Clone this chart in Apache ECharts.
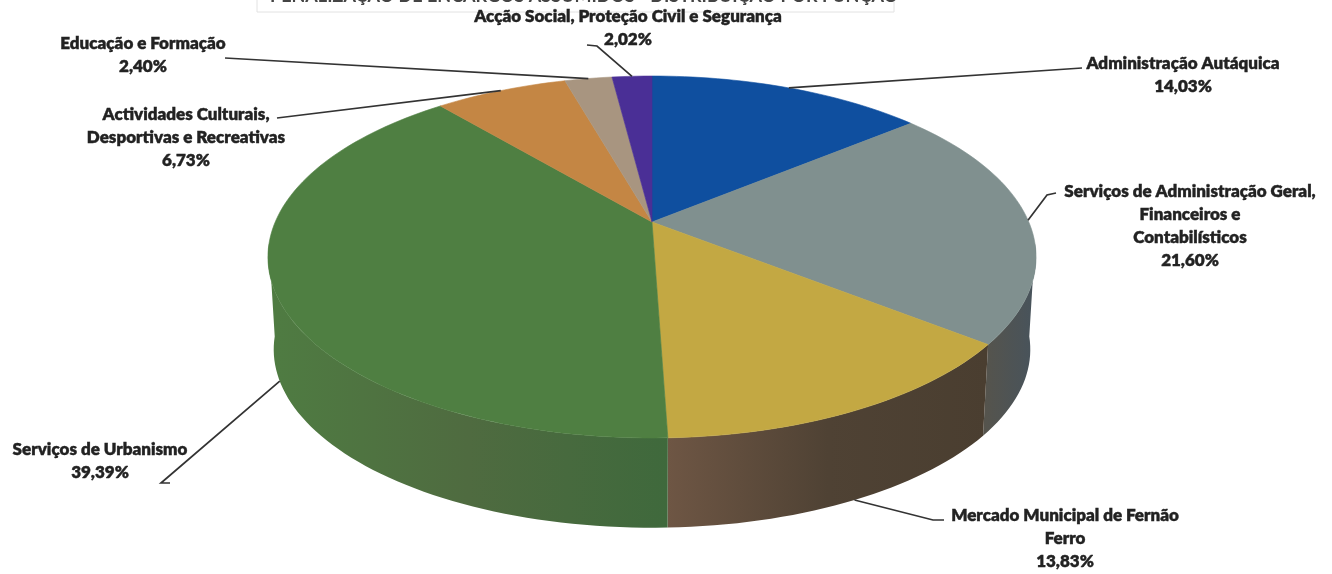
<!DOCTYPE html>
<html><head><meta charset="utf-8">
<style>html,body{margin:0;padding:0;background:#fff}#c{width:1332px;height:574px}</style>
<script src="https://cdn.jsdelivr.net/npm/echarts@6/dist/echarts.min.js"></script>
</head><body><div id="c"></div>
<script>
var names = ['Administração Autáquica','Serviços de Administração Geral,\nFinanceiros e\nContabilísticos','Mercado Municipal de Fernão\nFerro','Serviços de Urbanismo','Actividades Culturais,\nDesportivas e Recreativas','Educação e Formação','Acção Social, Proteção Civil e Segurança'];
var values = [14.03,21.60,13.83,39.39,6.73,2.40,2.02];
var titleText = 'PENALIZAÇÃO DE ENCARGOS ASSUMIDOS - DISTRIBUIÇÃO POR FUNÇÃO';

var topColors = ['#0f4f9f','#80908f','#c3a843','#4f7f42','#c48644','#a89580','#4a2f96'];
var wallColors = [['#0f3c70','#0f3c70'],['#56544c','#47535c'],['#6e5644','#4f4234','#4a3e30'],['#4f7c42','#4f6b40','#3f693c'],['#8a5f30','#8a5f30'],['#75685a','#75685a'],['#34216a','#34216a']];
// label layout: centre x, first-line centre y; leader: label-side points; anchor on lower rim or top rim
var labelLayout = [
 {x:1183,y:64,pts:[[1082,68]],d:0},
 {x:1190,y:192,pts:[[1056,193],[1047,195]],d:0},
 {x:1065,y:516,pts:[[944,520],[933,520]],d:1},
 {x:100,y:450,pts:[[170,483],[161,483]],d:1},
 {x:186,y:115,pts:[[277,118]],d:0},
 {x:143,y:44,pts:[[225,58]],d:0},
 {x:628,y:17,pts:[[587,45],[597,46]],d:0}
];
var P = {cx:652, cy:222, R:376.8, A:174.2, c:0.1934, dy:93, shrink:0.985};
var FONT = 'Lato, "Open Sans", sans-serif';

function pt(deg, lower){
  var a = deg*Math.PI/180, u = Math.sin(a), v = Math.cos(a), d = 1+P.c*v;
  var k = lower ? P.shrink : 1;
  return [P.cx + k*P.R*u/d, P.cy + (lower?P.dy:0) - k*P.A*v/d];
}
var total = values.reduce(function(s,v){return s+v;},0);
var starts = []; (function(){var s=0; values.forEach(function(v){starts.push(s); s+=v/total*360;});})();
function arc(a0,a1,lower){var r=[],n=Math.max(2,Math.ceil(Math.abs(a1-a0)/1.5));for(var i=0;i<=n;i++)r.push(pt(a0+(a1-a0)*i/n,lower));return r;}
var seriesData = values.map(function(v,i){return {name:names[i].replace(/\n/g,' '),value:[i,v]};});

function wallItem(params,api){
  var i = api.value(0), a0 = starts[i], a1 = a0+api.value(1)/total*360;
  a0 = Math.max(a0,97); a1 = Math.min(a1,263);
  if(a1<=a0) return {type:'group',children:[]};
  var pts = arc(a0,a1,false).concat(arc(a1,a0,true));
  var cols = wallColors[i];
  var stops = cols.map(function(c,k){return {offset:k/(cols.length-1),color:c};});
  return {type:'polygon',shape:{points:pts},style:{
    fill:new echarts.graphic.LinearGradient(0,0,1,0,stops),stroke:null}};
}
function topItem(params,api){
  var i = api.value(0), a0 = starts[i], a1 = a0+api.value(1)/total*360;
  var pts = [[P.cx,P.cy]].concat(arc(a0,a1,false));
  return {type:'polygon',shape:{points:pts},style:{fill:topColors[i],stroke:topColors[i],lineWidth:0.6}};
}
function labelItem(params,api){
  var i = api.value(0), a0 = starts[i], mid = a0+api.value(1)/total*180;
  var L = labelLayout[i], anchor = pt(mid, L.d===1);
  var valText = api.value(1).toFixed(2).replace('.',',')+'%';
  return {type:'group',children:[
    {type:'polyline',shape:{points:L.pts.concat([anchor])},style:{fill:null,stroke:'#333',lineWidth:1.7}},
    {type:'text',x:L.x,y:L.y-11.5,style:{text:names[i]+'\n'+valText,fill:'#222',stroke:'#222',lineWidth:0.4,align:'center',verticalAlign:'top',font:'800 17px '+FONT,lineHeight:23}}
  ]};
}
var chart = echarts.init(document.getElementById('c'),null,{renderer:'canvas'});
chart.setOption({
  animation:false,
  backgroundColor:'#fff',
  title:{text:titleText,left:265,top:-18,textStyle:{fontFamily:FONT,fontSize:18,fontWeight:'bold',color:'#444'}},
  graphic:[{type:'rect',shape:{x:257,y:-5,width:637,height:17},style:{fill:null,stroke:'#e2e2e2',lineWidth:1}}],
  series:[
   {type:'custom',coordinateSystem:'none',z:1,silent:true,renderItem:wallItem,data:seriesData},
   {type:'custom',coordinateSystem:'none',z:2,silent:true,renderItem:topItem,data:seriesData},
   {type:'custom',coordinateSystem:'none',z:3,silent:true,renderItem:labelItem,data:seriesData}
  ]
});
</script></body></html>
